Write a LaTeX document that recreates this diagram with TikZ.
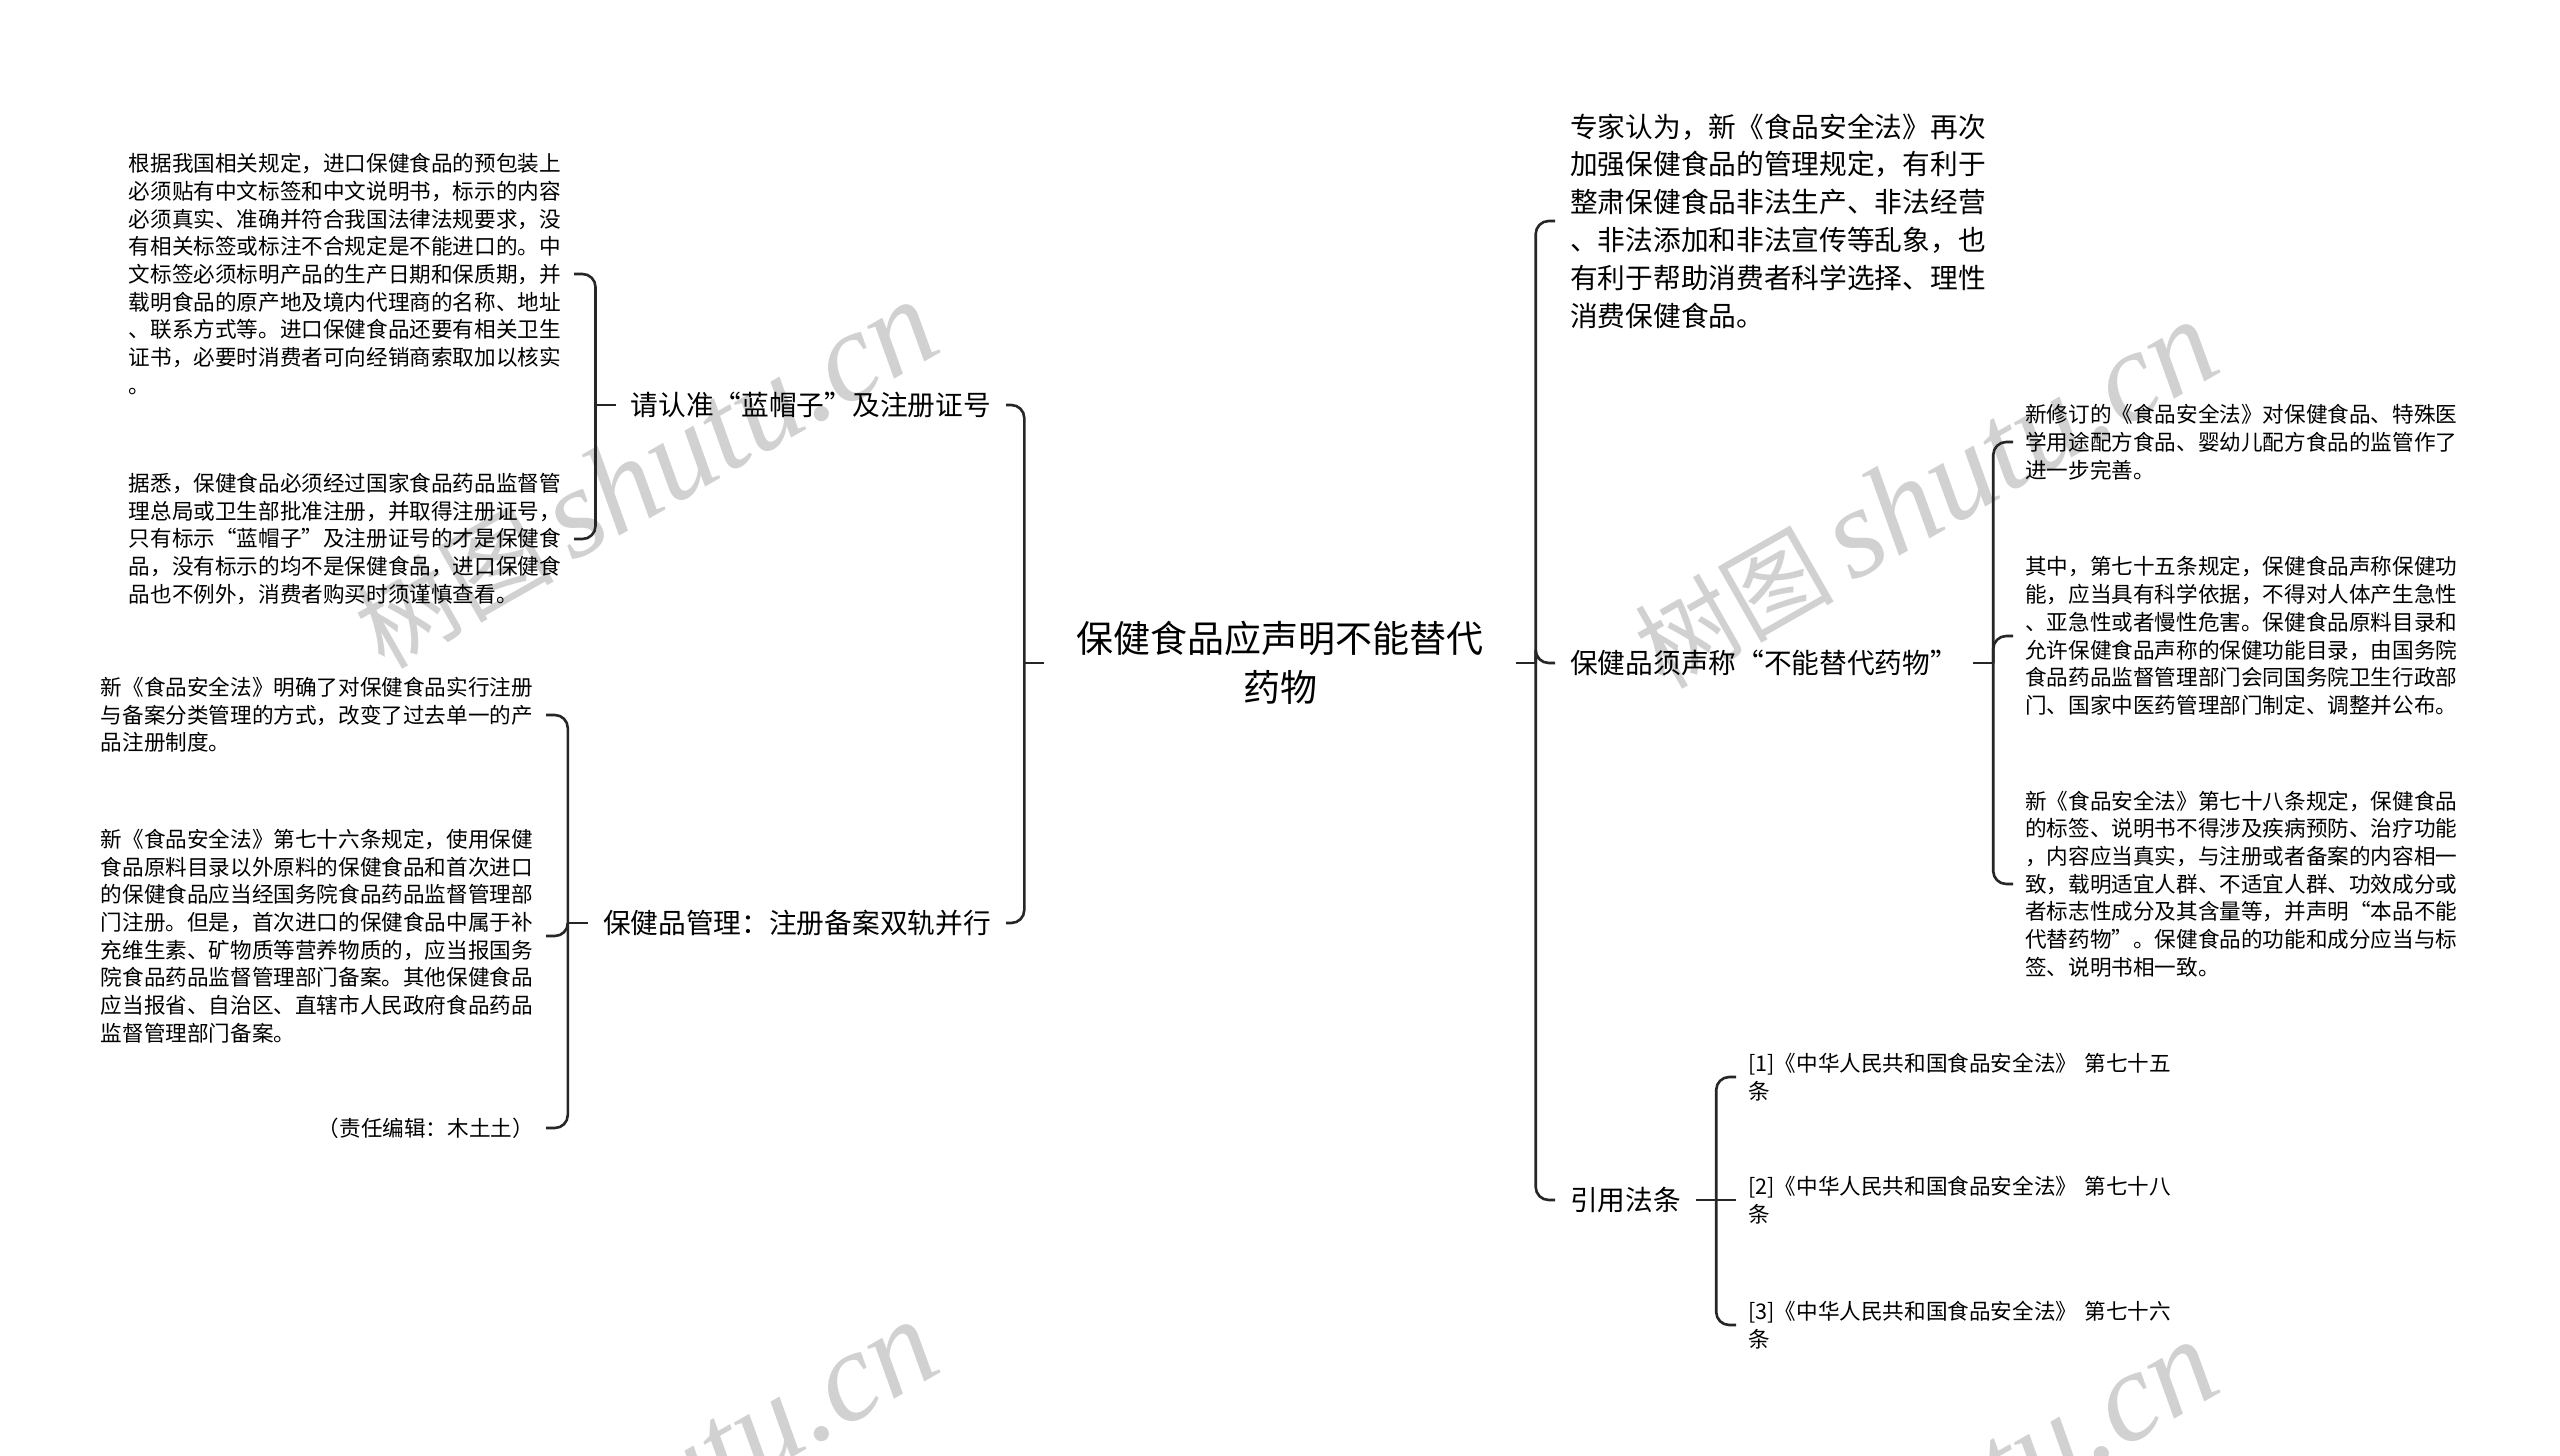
\documentclass[tikz,border=0pt]{standalone}
\usepackage{fontspec}
\setmainfont{Noto Sans CJK SC}
\newfontfamily\wmfont{Liberation Serif}
\usetikzlibrary{positioning}
\newcommand{\rootsize}{\fontsize{37pt}{49pt}\selectfont}
\newcommand{\topicsize}{\fontsize{27.7pt}{37.8pt}\selectfont}
\newcommand{\leafsize}{\fontsize{21.6pt}{27.7pt}\selectfont}
\newcommand{\wmtext}{\fontsize{100pt}{100pt}\selectfont 树图\,{\wmfont\itshape\fontsize{128pt}{128pt}\selectfont shutu.cn}}

\begin{document}
\begin{tikzpicture}[x=1pt,y=-1pt,root/.style={align=center,font=\rootsize,inner xsep=32pt,inner ysep=0pt},topic/.style={align=left,font=\topicsize,inner xsep=15pt,inner ysep=0pt},leaf/.style={align=left,font=\leafsize,text width=433pt,inner xsep=12pt,inner ysep=0pt},link/.style={draw=black!85,line width=2.6pt,rounded corners=13pt},wmark/.style={text=black!18,rotate=29.7,inner sep=0pt}]
\useasboundingbox (0,0) rectangle (2560,1456);
\clip (0,0) rectangle (2560,1456);
\fill[white] (0,0) rectangle (2560,1456);
\foreach \wx/\wy [count=\i] in {645/475,1925/495,645/1495,1925/1515} \node[wmark] (wm\i) at (\wx,\wy) {\wmtext};

\node[root] (root) at (1280,663) {保健食品应声明不能替代\\药物};
\node[topic,anchor=east] (blue) at (1006,405) {请认准“蓝帽子”及注册证号};
\node[topic,anchor=east] (manage) at (1006,923) {保健品管理：注册备案双轨并行};
\node[topic,anchor=west] (expert) at (1555,221) {专家认为，新《食品安全法》再次\\加强保健食品的管理规定，有利于\\整肃保健食品非法生产、非法经营\\、非法添加和非法宣传等乱象，也\\有利于帮助消费者科学选择、理性\\消费保健食品。};
\node[topic,anchor=west] (claim) at (1555,663) {保健品须声称“不能替代药物”};
\node[topic,anchor=west] (refs) at (1555,1200) {引用法条};

\node[leaf,anchor=east] (import) at (574,274) {根据我国相关规定，进口保健食品的预包装上\\必须贴有中文标签和中文说明书，标示的内容\\必须真实、准确并符合我国法律法规要求，没\\有相关标签或标注不合规定是不能进口的。中\\文标签必须标明产品的生产日期和保质期，并\\载明食品的原产地及境内代理商的名称、地址\\、联系方式等。进口保健食品还要有相关卫生\\证书，必要时消费者可向经销商索取加以核实\\。};
\node[leaf,anchor=east] (bluecap) at (574,539) {据悉，保健食品必须经过国家食品药品监督管\\理总局或卫生部批准注册，并取得注册证号，\\只有标示“蓝帽子”及注册证号的才是保健食\\品，没有标示的均不是保健食品，进口保健食\\品也不例外，消费者购买时须谨慎查看。};
\node[leaf,anchor=east] (dual) at (546,715) {新《食品安全法》明确了对保健食品实行注册\\与备案分类管理的方式，改变了过去单一的产\\品注册制度。};
\node[leaf,anchor=east] (art76) at (546,936) {新《食品安全法》第七十六条规定，使用保健\\食品原料目录以外原料的保健食品和首次进口\\的保健食品应当经国务院食品药品监督管理部\\门注册。但是，首次进口的保健食品中属于补\\充维生素、矿物质等营养物质的，应当报国务\\院食品药品监督管理部门备案。其他保健食品\\应当报省、自治区、直辖市人民政府食品药品\\监督管理部门备案。};
\node[leaf,anchor=east,align=right] (editor) at (546,1128) {（责任编辑：木土土）};
\node[leaf,anchor=west] (revise) at (2013,442) {新修订的《食品安全法》对保健食品、特殊医\\学用途配方食品、婴幼儿配方食品的监管作了\\进一步完善。};
\node[leaf,anchor=west] (art75) at (2013,636) {其中，第七十五条规定，保健食品声称保健功\\能，应当具有科学依据，不得对人体产生急性\\、亚急性或者慢性危害。保健食品原料目录和\\允许保健食品声称的保健功能目录，由国务院\\食品药品监督管理部门会同国务院卫生行政部\\门、国家中医药管理部门制定、调整并公布。};
\node[leaf,anchor=west] (art78) at (2013,884) {新《食品安全法》第七十八条规定，保健食品\\的标签、说明书不得涉及疾病预防、治疗功能\\，内容应当真实，与注册或者备案的内容相一\\致，载明适宜人群、不适宜人群、功效成分或\\者标志性成分及其含量等，并声明“本品不能\\代替药物”。保健食品的功能和成分应当与标\\签、说明书相一致。};
\node[leaf,anchor=west] (ref1) at (1736,1077) {[1]《中华人民共和国食品安全法》 第七十五\\条};
\node[leaf,anchor=west] (ref2) at (1736,1200) {[2]《中华人民共和国食品安全法》 第七十八\\条};
\node[leaf,anchor=west] (ref3) at (1736,1325) {[3]《中华人民共和国食品安全法》 第七十六\\条};

\coordinate (jL) at ([xshift=-20pt]root.west);
\coordinate (jR) at ([xshift=20pt]root.east);
\coordinate (jB) at ([xshift=-20pt]blue.west);
\coordinate (jM) at ([xshift=-20pt]manage.west);
\coordinate (jC) at ([xshift=20pt]claim.east);
\coordinate (jF) at ([xshift=20pt]refs.east);
\draw[link] (root.west) -- (jL);
\draw[link] (root.east) -- (jR);
\foreach \kid in {blue,manage} \draw[link] (jL) |- (\kid.east);
\foreach \kid in {expert,claim,refs} \draw[link] (jR) |- (\kid.west);
\draw[link] (blue.west) -- (jB);
\foreach \kid in {import,bluecap} \draw[link] (jB) |- (\kid.east);
\draw[link] (manage.west) -- (jM);
\foreach \kid in {dual,art76,editor} \draw[link] (jM) |- (\kid.east);
\draw[link] (claim.east) -- (jC);
\foreach \kid in {revise,art75,art78} \draw[link] (jC) |- (\kid.west);
\draw[link] (refs.east) -- (jF);
\foreach \kid in {ref1,ref3} \draw[link] (jF) |- (\kid.west);
\draw[link] (jF) -- (ref2.west);
\end{tikzpicture}
\end{document}
